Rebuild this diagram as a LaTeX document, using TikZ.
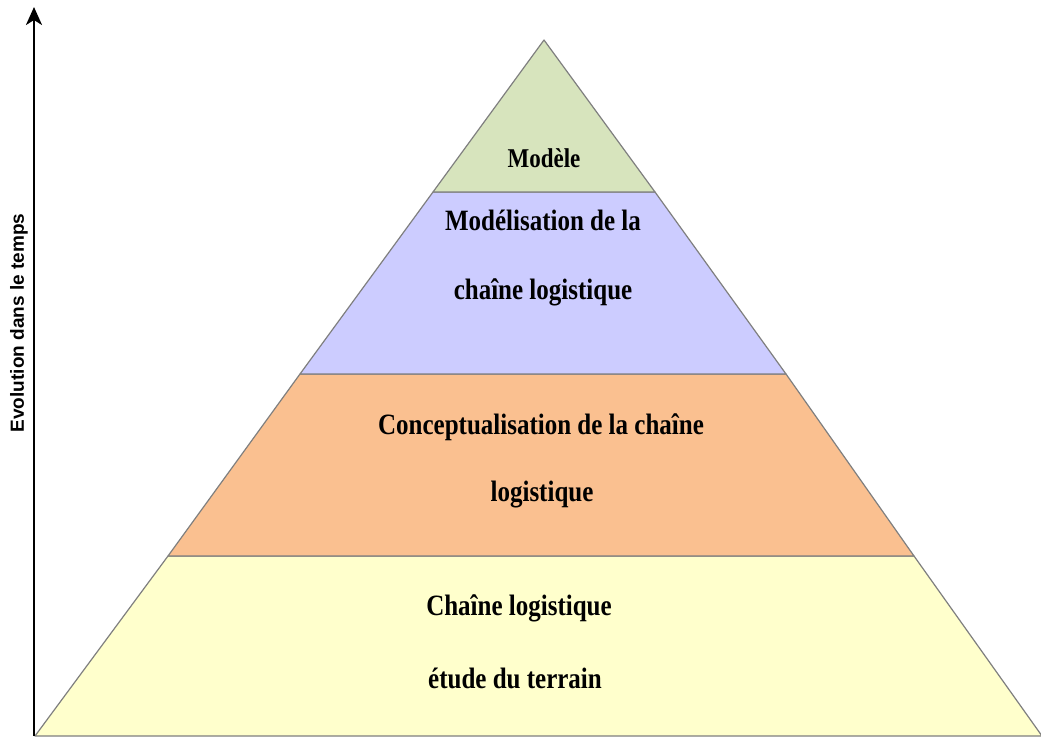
\documentclass[tikz,border=0pt]{standalone}
\usepackage{fontspec}
\usepackage{graphicx}
\setmainfont{Liberation Serif}
\setsansfont{Liberation Sans}
\usetikzlibrary{arrows.meta}
\definecolor{topgreen}{HTML}{D7E4BD}
\definecolor{modblue}{HTML}{CCCCFF}
\definecolor{concorange}{HTML}{FAC090}
\definecolor{baseyellow}{HTML}{FFFFCC}
\definecolor{edgegray}{HTML}{7F7F7F}
\newcommand{\tallbox}[1]{\scalebox{1}[1.18]{#1}}
\begin{document}
\begin{tikzpicture}[x=1pt, y=-1pt,
    tier/.style={draw=edgegray, line width=1.2pt, line join=round},
    label/.style={font=\bfseries\fontsize{25}{30}\selectfont, inner sep=0}]
    \clip (0,0) rectangle (1041,736);
    % lagen
    \draw[tier, fill=baseyellow] (35,736) -- (168,556) -- (914,556) -- (1042,736) -- cycle;
    \draw[tier, fill=concorange] (168,556) -- (300,374) -- (786,374) -- (914,556) -- cycle;
    \draw[tier, fill=modblue] (300,374) -- (433,192) -- (655,192) -- (786,374) -- cycle;
    \draw[tier, fill=topgreen] (433,192) -- (544,40) -- (655,192) -- cycle;
    % teksten
    \node[label, font=\bfseries\fontsize{23}{28}\selectfont] (modele) at (544,158) {\tallbox{Modèle}};
    \node[label] (modA) at (543,220) {\tallbox{Modélisation de la}};
    \node[label] (modB) at (543,292) {\tallbox{chaîne logistique}};
    \node[label] (concA) at (541,427) {\tallbox{Conceptualisation de la chaîne}};
    \node[label] (concB) at (542,495) {\tallbox{logistique}};
    \node[label] (baseA) at (519,608) {\tallbox{Chaîne logistique}};
    \node[label] (baseB) at (515,678) {\tallbox{étude du terrain}};
    % as
    \coordinate (tbot) at (34,736);
    \coordinate (ttop) at (34,7);
    \draw[line width=2.6pt, -{Stealth[length=18pt, width=16pt, inset=5pt]}] (tbot) -- (ttop);
    \node[rotate=90, font=\sffamily\bfseries\fontsize{19}{22}\selectfont, inner sep=0] (temps) at (19,323) {Evolution dans le temps};
\end{tikzpicture}
\end{document}
